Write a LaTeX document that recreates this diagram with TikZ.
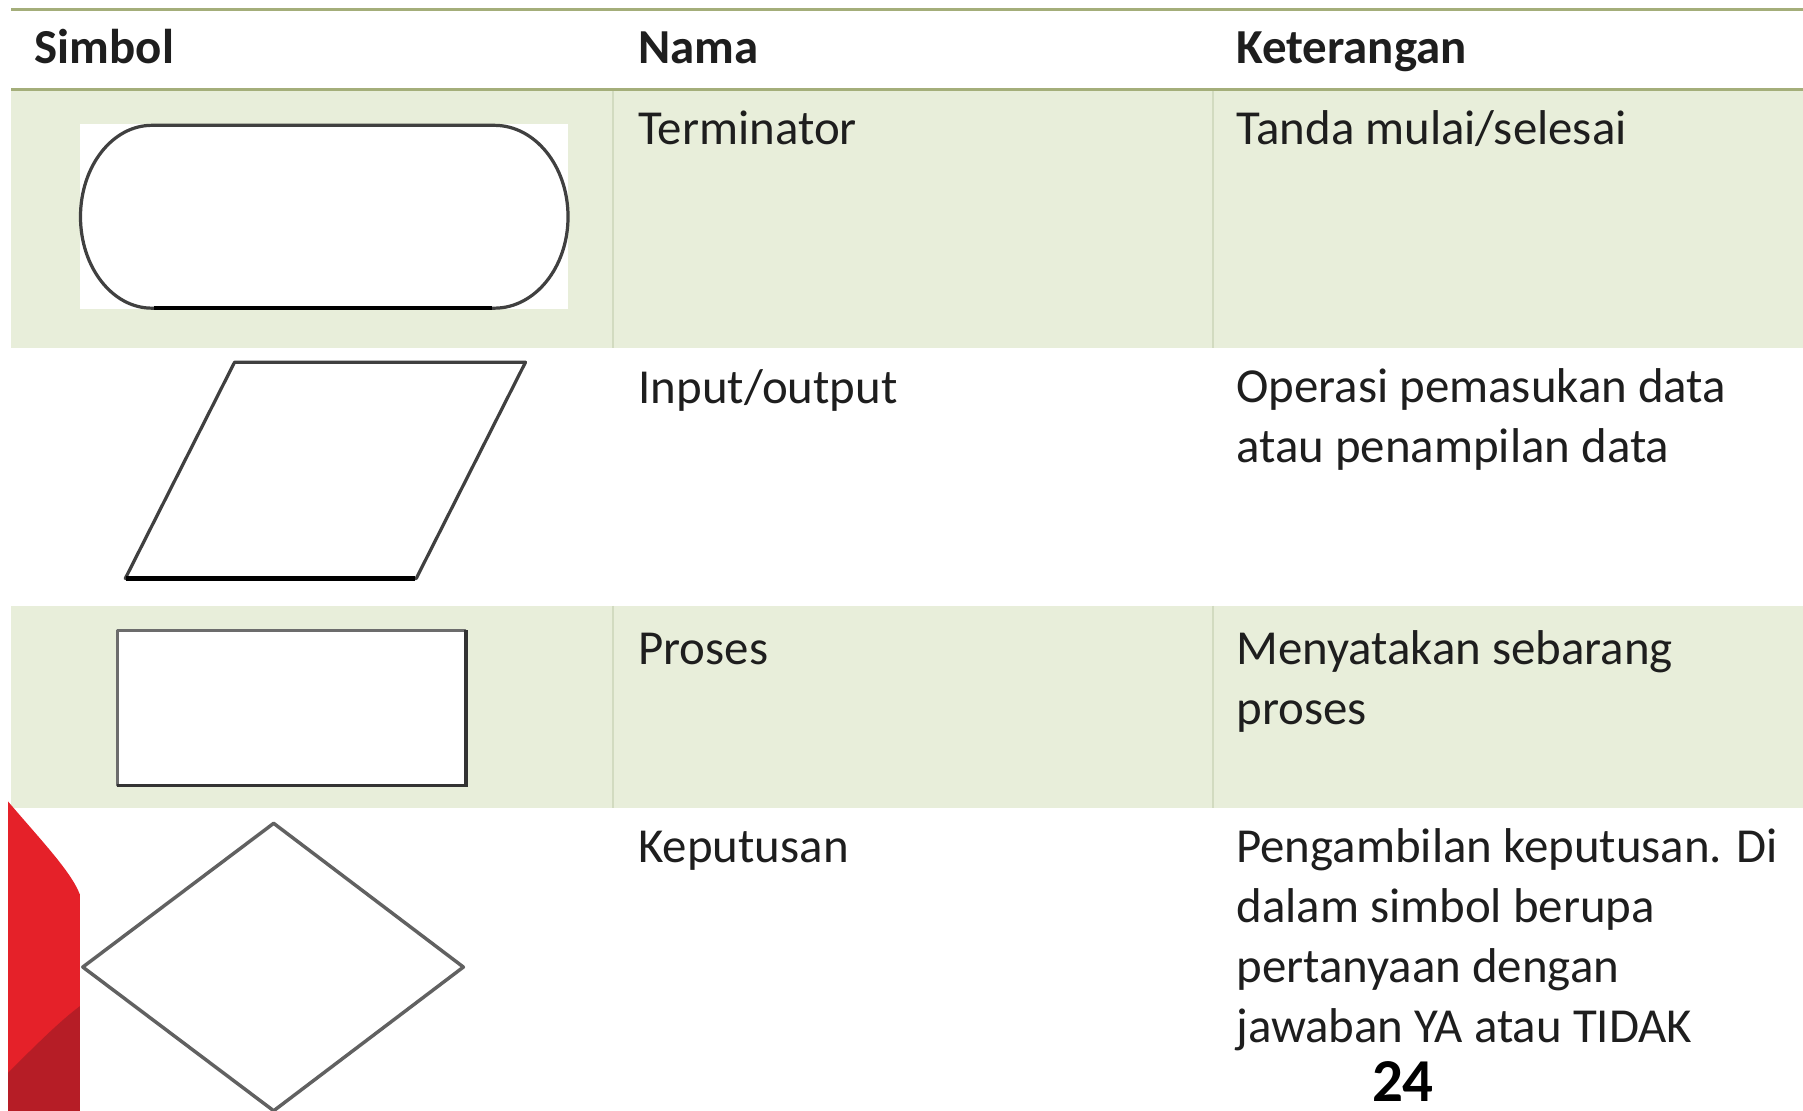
\documentclass[tikz,border=0pt]{standalone}
\usepackage{fontspec}
\setmainfont{Carlito}
\definecolor{rowgreen}{HTML}{E8EEDA}
\definecolor{rulegreen}{HTML}{A4AE7A}
\definecolor{sepgreen}{HTML}{D2DBC0}
\definecolor{textcol}{HTML}{1E1E1E}
\definecolor{shapeline}{HTML}{404040}
\definecolor{brightred}{HTML}{E52129}
\definecolor{darkred}{HTML}{B61D26}
\tikzset{
  % multi-line cells are anchored at the baseline of their last line
  cell/.style={font=\fontsize{42.5}{52.3}\selectfont, text=textcol, inner sep=0pt, anchor=base west, align=left},
  headcell/.style={cell, font=\fontsize{42.5}{52.3}\selectfont\bfseries},
  symline/.style={draw=shapeline, line width=2.8pt, line join=round},
  heavyedge/.style={draw=black, line width=3.8pt},
}
\begin{document}
\begin{tikzpicture}[x=1pt,y=-1pt]
\useasboundingbox (0,0) rectangle (1568,966);
\fill[white] (0,0) rectangle (1568,966);

% shaded table rows
\fill[rowgreen] (10,79) rectangle (1568,303);
\fill[rowgreen] (10,527) rectangle (1568,703);
\foreach \x in {533,1055} {
  \draw[sepgreen, line width=1.2pt] (\x,79) -- (\x,303);
  \draw[sepgreen, line width=1.2pt] (\x,527) -- (\x,703);
}

% header rules
\draw[rulegreen, line width=2.6pt] (10,8) -- (1568,8);
\draw[rulegreen, line width=2.6pt] (10,78) -- (1568,78);

% header
\node[headcell] (hsym) at (30,55) {Simbol};
\node[headcell] (hname) at (555,55) {Nama};
\node[headcell] (hdesc) at (1075,55) {Keterangan};

% terminator symbol
\fill[white] (70,108) rectangle (494,269);
\draw[symline] (132,109) -- (430,109)
  arc[start angle=-90, end angle=90, x radius=64, y radius=79.5]
  -- (132,268)
  arc[start angle=90, end angle=270, x radius=62, y radius=79.5] -- cycle;
\draw[heavyedge] (134,268) -- (428,268);

% input/output symbol
\draw[symline, fill=white] (204,315) -- (457,315) -- (362,503) -- (109,503) -- cycle;
\draw[heavyedge] (110,503) -- (361,503);

% process symbol
\draw[symline, draw=gray!85!black, fill=white] (102,548) rectangle (405,683);
\draw[draw=black!80, line width=3.2pt, line join=miter] (405,548) -- (405,683) -- (102,683);

% decision symbol
\draw[symline, draw=black!62, line width=3pt, fill=white] (238,716) -- (403,841) -- (238,966) -- (72,841) -- cycle;

% corner ornament
\fill[brightred] (7,697) .. controls (35,730) and (62,758) .. (69.5,778) -- (69.5,966) -- (7,966) -- cycle;
\fill[darkred] (7,933) .. controls (30,910) and (52,888) .. (69.5,875) -- (69.5,966) -- (7,966) -- cycle;

% names
\node[cell] (n1) at (555,126) {Terminator};
\node[cell] (n2) at (555,351) {Input/output};
\node[cell] (n3) at (555,578) {Proses};
\node[cell] (n4) at (555,750) {Keputusan};

% descriptions
\node[cell] (d1) at (1075,126) {Tanda mulai/selesai};
\node[cell] (d2) at (1075,402.5) {Operasi pemasukan data\\atau penampilan data};
\node[cell] (d3) at (1075,630) {Menyatakan sebarang\\proses};
\node[cell] (d4) at (1075,907) {Pengambilan keputusan. Di\\dalam simbol berupa\\pertanyaan dengan\\jawaban YA atau TIDAK};

% page number
\node[cell, font=\fontsize{53}{60}\selectfont\bfseries, text=black, text depth=0pt] (pg) at (1193,958) {24};
\end{tikzpicture}
\end{document}
